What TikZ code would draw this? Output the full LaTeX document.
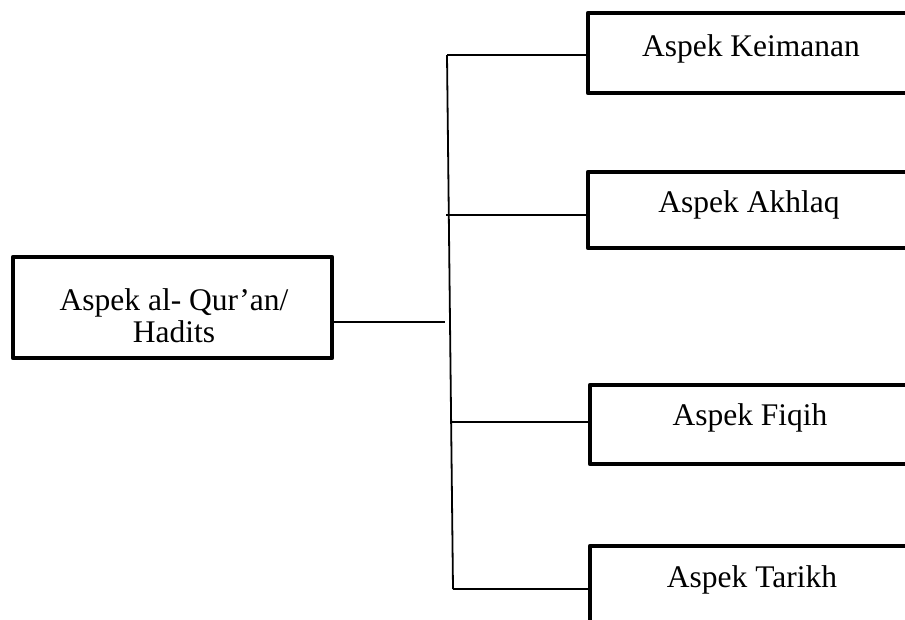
\documentclass[tikz,border=0pt]{standalone}
\usepackage{fontspec}
\setmainfont{Liberation Serif}
\begin{document}
\begin{tikzpicture}[x=1pt,y=-1pt,
  boxst/.style={draw=black,line width=4.8pt,rectangle,inner sep=0pt,line join=round},
  link/.style={draw=black,line width=1.8pt},
  lbl/.style={anchor=base,inner sep=0pt,font=\fontsize{31.5}{32}\selectfont,align=center}]
\useasboundingbox (0,0) rectangle (905,619);
\clip (0,0) rectangle (905,619);
% boxes
\node[boxst,minimum width=319pt,minimum height=101pt] (root) at (172.5,307.5) {};
\node[boxst,minimum width=327pt,minimum height=80pt] (k1) at (751.5,53) {};
\node[boxst,minimum width=327pt,minimum height=76pt] (k2) at (751.5,210) {};
\node[boxst,minimum width=325pt,minimum height=79pt] (k3) at (752.5,424.5) {};
\node[boxst,minimum width=325pt,minimum height=94pt] (k4) at (752.5,593) {};
% labels
\node[lbl] (t0a) at (174,310) {Aspek al- Qur’an/};
\node[lbl] (t0b) at (174,342) {Hadits};
\node[lbl] (t1) at (751,56) {Aspek Keimanan};
\node[lbl] (t2) at (749,212) {Aspek Akhlaq};
\node[lbl] (t3) at (750,425) {Aspek Fiqih};
\node[lbl] (t4) at (752,587) {Aspek Tarikh};
% trunk
\coordinate (ta) at (447,55);
\coordinate (tb) at (448.8,215);
\coordinate (tm) at (445,322);
\coordinate (tc) at (451.9,422);
\coordinate (td) at (453,589);
\draw[link] (ta) -- (td);
\draw[link] (root.east |- tm) -- (tm);
\draw[link] (ta) -- (ta -| k1.west);
\draw[link] ([xshift=-2.5pt]tb) -- (tb -| k2.west);
\draw[link] (tc) -- (tc -| k3.west);
\draw[link] (td) -- (td -| k4.west);
\end{tikzpicture}
\end{document}
